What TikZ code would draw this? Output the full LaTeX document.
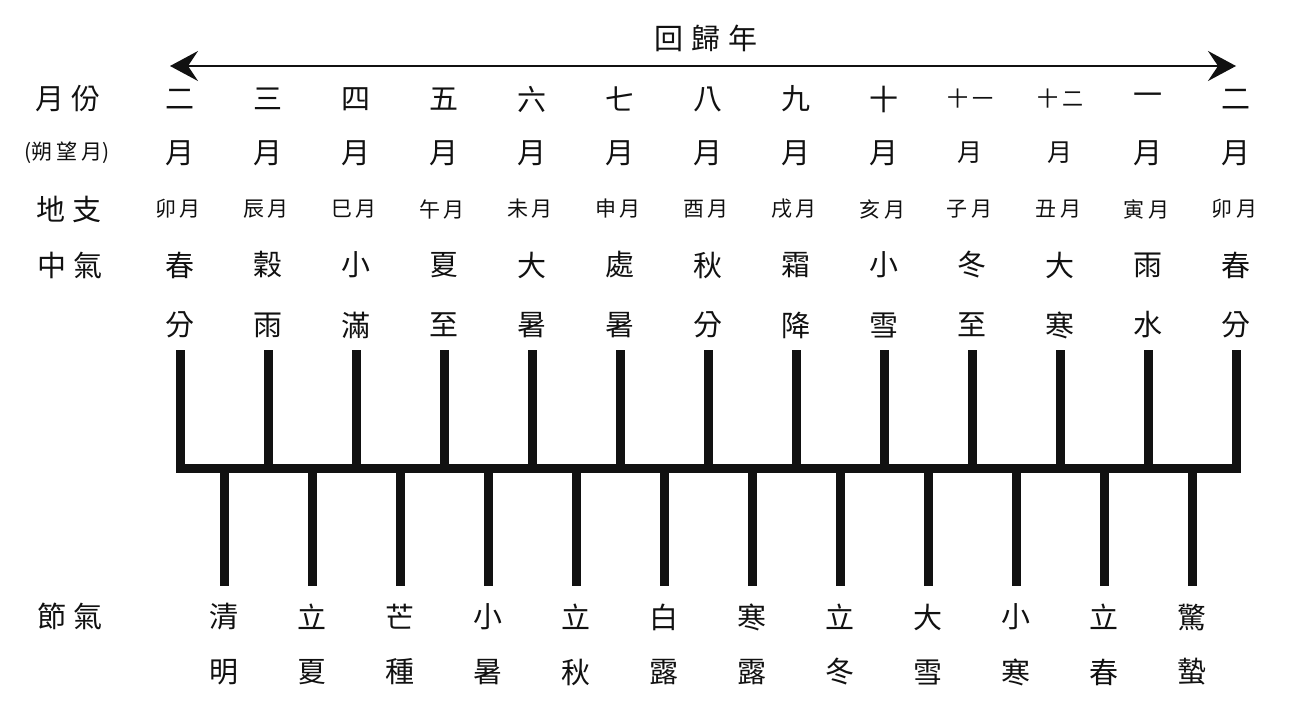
\documentclass[tikz,border=0pt]{standalone}
\usepackage{fontspec}
\usepackage{xcolor}
\usetikzlibrary{arrows.meta}
\newfontfamily\cjk{Noto Sans CJK TC}
\definecolor{inkblack}{HTML}{111111}
\newcommand{\wsp}{\hspace{8pt}}
\newcommand{\nsp}{\hspace{4pt}}
\tikzset{
	bigcell/.style={font=\cjk\fontsize{29}{29}\selectfont, inner sep=0pt, text=inkblack},
	midcell/.style={font=\cjk\fontsize{25}{25}\selectfont, inner sep=0pt, text=inkblack},
	smallcell/.style={font=\cjk\fontsize{21}{21}\selectfont, inner sep=0pt, text=inkblack},
	rule/.style={color=inkblack, line width=9pt},
}

\begin{document}
\begin{tikzpicture}[x=1pt, y=-1pt]
		\useasboundingbox (0,0) rectangle (1293,726);
		% year arrow
		\node[bigcell] (Title) at (706,38) {回\wsp 歸\wsp 年};
		\coordinate (AL) at (170,66);
		\coordinate (AR) at (1236,66);
		\draw[color=inkblack, line width=2pt, {Stealth[length=28pt,width=30pt,inset=10pt]}-{Stealth[length=28pt,width=30pt,inset=10pt]}] (AL) -- (AR);
		% row labels
		\node[bigcell] (Lm) at (68,99) {月\wsp 份};
		\node[smallcell] (Ls) at (67,153) {(朔\nsp 望\nsp 月)};
		\node[bigcell] (Ld) at (69,209) {地\wsp 支};
		\node[bigcell] (Lz) at (70,265) {中\wsp 氣};
		\node[bigcell] (Lj) at (70,616) {節\wsp 氣};
		% months
		\node[bigcell] (M1) at (180,99) {二};
		\node[bigcell] (M2) at (268,99) {三};
		\node[bigcell] (M3) at (356,99) {四};
		\node[bigcell] (M4) at (444,99) {五};
		\node[bigcell] (M5) at (532,99) {六};
		\node[bigcell] (M6) at (620,99) {七};
		\node[bigcell] (M7) at (708,99) {八};
		\node[bigcell] (M8) at (796,99) {九};
		\node[bigcell] (M9) at (884,99) {十};
		\node[smallcell] (M10) at (970,99) {十\nsp 一};
		\node[smallcell] (M11) at (1060,99) {十\nsp 二};
		\node[bigcell] (M12) at (1148,99) {一};
		\node[bigcell] (M13) at (1236,99) {二};
		% synodic months
		\node[bigcell] (S1) at (180,153) {月};
		\node[bigcell] (S2) at (268,153) {月};
		\node[bigcell] (S3) at (356,153) {月};
		\node[bigcell] (S4) at (444,153) {月};
		\node[bigcell] (S5) at (532,153) {月};
		\node[bigcell] (S6) at (620,153) {月};
		\node[bigcell] (S7) at (708,153) {月};
		\node[bigcell] (S8) at (796,153) {月};
		\node[bigcell] (S9) at (884,153) {月};
		\node[midcell] (S10) at (970,153) {月};
		\node[midcell] (S11) at (1060,153) {月};
		\node[bigcell] (S12) at (1148,153) {月};
		\node[bigcell] (S13) at (1236,153) {月};
		% earthly branches
		\node[smallcell] (D1) at (178,209) {卯\nsp 月};
		\node[smallcell] (D2) at (266,209) {辰\nsp 月};
		\node[smallcell] (D3) at (354,209) {巳\nsp 月};
		\node[smallcell] (D4) at (442,209) {午\nsp 月};
		\node[smallcell] (D5) at (530,209) {未\nsp 月};
		\node[smallcell] (D6) at (618,209) {申\nsp 月};
		\node[smallcell] (D7) at (706,209) {酉\nsp 月};
		\node[smallcell] (D8) at (794,209) {戌\nsp 月};
		\node[smallcell] (D9) at (882,209) {亥\nsp 月};
		\node[smallcell] (D10) at (969,209) {子\nsp 月};
		\node[smallcell] (D11) at (1058,209) {丑\nsp 月};
		\node[smallcell] (D12) at (1146,209) {寅\nsp 月};
		\node[smallcell] (D13) at (1234,209) {卯\nsp 月};
		% principal terms
		\node[bigcell] (Z1) at (180,265) {春};
		\node[bigcell] (Z2) at (268,265) {穀};
		\node[bigcell] (Z3) at (356,265) {小};
		\node[bigcell] (Z4) at (444,265) {夏};
		\node[bigcell] (Z5) at (532,265) {大};
		\node[bigcell] (Z6) at (620,265) {處};
		\node[bigcell] (Z7) at (708,265) {秋};
		\node[bigcell] (Z8) at (796,265) {霜};
		\node[bigcell] (Z9) at (884,265) {小};
		\node[bigcell] (Z10) at (972,265) {冬};
		\node[bigcell] (Z11) at (1060,265) {大};
		\node[bigcell] (Z12) at (1148,265) {雨};
		\node[bigcell] (Z13) at (1236,265) {春};
		\node[bigcell] (Zb1) at (180,325) {分};
		\node[bigcell] (Zb2) at (268,325) {雨};
		\node[bigcell] (Zb3) at (356,325) {滿};
		\node[bigcell] (Zb4) at (444,325) {至};
		\node[bigcell] (Zb5) at (532,325) {暑};
		\node[bigcell] (Zb6) at (620,325) {暑};
		\node[bigcell] (Zb7) at (708,325) {分};
		\node[bigcell] (Zb8) at (796,325) {降};
		\node[bigcell] (Zb9) at (884,325) {雪};
		\node[bigcell] (Zb10) at (972,325) {至};
		\node[bigcell] (Zb11) at (1060,325) {寒};
		\node[bigcell] (Zb12) at (1148,325) {水};
		\node[bigcell] (Zb13) at (1236,325) {分};
		% sectional terms
		\node[bigcell] (J1) at (224,617) {清};
		\node[bigcell] (J2) at (312,617) {立};
		\node[bigcell] (J3) at (400,617) {芒};
		\node[bigcell] (J4) at (488,617) {小};
		\node[bigcell] (J5) at (576,617) {立};
		\node[bigcell] (J6) at (664,617) {白};
		\node[bigcell] (J7) at (752,617) {寒};
		\node[bigcell] (J8) at (840,617) {立};
		\node[bigcell] (J9) at (928,617) {大};
		\node[bigcell] (J10) at (1016,617) {小};
		\node[bigcell] (J11) at (1104,617) {立};
		\node[bigcell] (J12) at (1192,617) {驚};
		\node[bigcell] (Jb1) at (224,672) {明};
		\node[bigcell] (Jb2) at (312,672) {夏};
		\node[bigcell] (Jb3) at (400,672) {種};
		\node[bigcell] (Jb4) at (488,672) {暑};
		\node[bigcell] (Jb5) at (576,672) {秋};
		\node[bigcell] (Jb6) at (664,672) {露};
		\node[bigcell] (Jb7) at (752,672) {露};
		\node[bigcell] (Jb8) at (840,672) {冬};
		\node[bigcell] (Jb9) at (928,672) {雪};
		\node[bigcell] (Jb10) at (1016,672) {寒};
		\node[bigcell] (Jb11) at (1104,672) {春};
		\node[bigcell] (Jb12) at (1192,672) {蟄};
		% comb: upper ticks
		\coordinate (T1) at (180,350);
		\coordinate (T2) at (268,350);
		\coordinate (T3) at (356,350);
		\coordinate (T4) at (444,350);
		\coordinate (T5) at (532,350);
		\coordinate (T6) at (620,350);
		\coordinate (T7) at (708,350);
		\coordinate (T8) at (796,350);
		\coordinate (T9) at (884,350);
		\coordinate (T10) at (972,350);
		\coordinate (T11) at (1060,350);
		\coordinate (T12) at (1148,350);
		\coordinate (T13) at (1236,350);
		\coordinate (B1) at (180,468);
		\coordinate (B2) at (268,468);
		\coordinate (B3) at (356,468);
		\coordinate (B4) at (444,468);
		\coordinate (B5) at (532,468);
		\coordinate (B6) at (620,468);
		\coordinate (B7) at (708,468);
		\coordinate (B8) at (796,468);
		\coordinate (B9) at (884,468);
		\coordinate (B10) at (972,468);
		\coordinate (B11) at (1060,468);
		\coordinate (B12) at (1148,468);
		\coordinate (B13) at (1236,468);
		\draw[rule] (T1) -- (B1) -- (B13) -- (T13);
		\draw[rule] (T2) -- (B2);
		\draw[rule] (T3) -- (B3);
		\draw[rule] (T4) -- (B4);
		\draw[rule] (T5) -- (B5);
		\draw[rule] (T6) -- (B6);
		\draw[rule] (T7) -- (B7);
		\draw[rule] (T8) -- (B8);
		\draw[rule] (T9) -- (B9);
		\draw[rule] (T10) -- (B10);
		\draw[rule] (T11) -- (B11);
		\draw[rule] (T12) -- (B12);
		% comb: lower ticks
		\coordinate (K1) at (224,468);
		\coordinate (K2) at (312,468);
		\coordinate (K3) at (400,468);
		\coordinate (K4) at (488,468);
		\coordinate (K5) at (576,468);
		\coordinate (K6) at (664,468);
		\coordinate (K7) at (752,468);
		\coordinate (K8) at (840,468);
		\coordinate (K9) at (928,468);
		\coordinate (K10) at (1016,468);
		\coordinate (K11) at (1104,468);
		\coordinate (K12) at (1192,468);
		\coordinate (L1) at (224,586);
		\coordinate (L2) at (312,586);
		\coordinate (L3) at (400,586);
		\coordinate (L4) at (488,586);
		\coordinate (L5) at (576,586);
		\coordinate (L6) at (664,586);
		\coordinate (L7) at (752,586);
		\coordinate (L8) at (840,586);
		\coordinate (L9) at (928,586);
		\coordinate (L10) at (1016,586);
		\coordinate (L11) at (1104,586);
		\coordinate (L12) at (1192,586);
		\draw[rule] (K1) -- (L1);
		\draw[rule] (K2) -- (L2);
		\draw[rule] (K3) -- (L3);
		\draw[rule] (K4) -- (L4);
		\draw[rule] (K5) -- (L5);
		\draw[rule] (K6) -- (L6);
		\draw[rule] (K7) -- (L7);
		\draw[rule] (K8) -- (L8);
		\draw[rule] (K9) -- (L9);
		\draw[rule] (K10) -- (L10);
		\draw[rule] (K11) -- (L11);
		\draw[rule] (K12) -- (L12);
	\end{tikzpicture}
\end{document}
